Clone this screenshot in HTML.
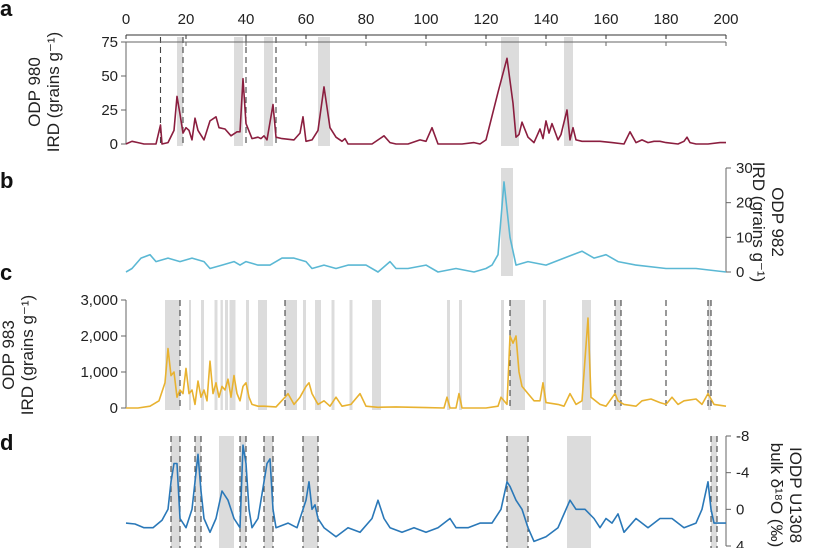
<!DOCTYPE html>
<html><head><meta charset="utf-8"><style>
html,body{margin:0;padding:0;background:#fff;}
svg{display:block;font-family:"Liberation Sans",sans-serif;}
</style></head><body>
<svg id="chart" width="826" height="548"></svg>
<script>
// Shared age axis 0-200 kyr
const ageTicks=[0,20,40,60,80,100,120,140,160,180,200];
// Panel a: ODP 980 IRD
const aAges=[0,2,4,6,10,11.5,12,14,16,17,18,19,20,21,22,23,24,26,28,30,31,33,35,37,38,39,40,42,44,45,46,47,49,50,52,56,58,59,60,62,64,66,68,70,72,73,74,78,82,86,88,90,94,98,100,102,104,108,112,116,118,120,124,127,129,130,131,132,134,136,138,139,140,141,142,144,145,147,148,149,150,152,158,162,166,168,170,172,174,176,178,180,184,186,187,188,190,194,198,200];
const aVals=[0,2,1,0,0,14,0,1,10,35,22,8,12,10,3,19,10,3,17,20,12,11,6,9,9,48,15,4,5,4,6,3,29,5,4,3,8,20,2,3,10,42,12,5,2,4,0,0,0,6,1,0,0,3,2,12,0,0,0,1,0,3,38,63,30,5,7,16,5,1,11,4,17,8,15,3,7,25,3,12,3,2,2,1,0,9,1,3,1,2,2,1,0,2,5,1,0,0,1,1];
const aTicks=[0,25,50,75];
const aBands=[[17,19],[36,39],[46,49],[64,68],[125,131],[146,149]];
const aDashes=[11.5,19,40,50];
// Panel b: ODP 982 IRD
const bAges=[0,2,5,8,10,14,18,22,26,28,32,36,38,40,44,48,52,56,60,62,66,70,74,80,84,88,90,94,100,104,110,116,120,122,124,126,128,130,134,140,146,152,156,160,164,170,180,190,200];
const bVals=[0,1,4,5,3,4,3,4,3,1,2,3,2,3,2,2,4,4,3,1,2,1,2,2,0,3,1,1,2,0,1,0,1,2,5,26,10,2,3,2,4,6,4,5,3,2,1,1,0];
const bTicks=[0,10,20,30];
const bBands=[[125,129]];
// Panel c: ODP 983 IRD
const cAges=[0,4,8,11,13,14,15,16,17,18,19,20,21,22,23,24,25,26,27,28,29,30,31,32,33,34,35,36,37,38,39,40,41,42,44,46,50,53,54,56,58,60,61,62,64,66,68,70,72,75,78,80,84,90,100,106,107,108,110,111,112,120,124,125,127,128,129,130,131,132,134,136,138,139,140,144,146,148,150,152,154,155,158,160,163,164,166,170,172,175,178,180,182,184,186,190,192,194,196,200];
const cVals=[0,0,50,200,700,1650,900,1000,300,500,400,1100,400,500,100,750,300,500,200,1300,400,700,300,600,500,800,300,900,400,200,600,700,300,100,50,50,30,300,400,100,300,600,700,400,100,200,50,300,50,100,400,50,20,30,10,0,300,0,0,400,0,0,50,300,100,2000,1800,2000,1000,600,400,200,200,700,150,100,50,400,100,200,2500,300,100,50,400,200,100,50,200,250,150,100,300,100,200,250,100,400,100,50];
const cTicks=[0,1000,2000,3000];
const cTickLabels=["0","1,000","2,000","3,000"];
const cBands=[[13,18],[21,21.6],[25,26],[29.5,30.5],[31.5,32.3],[33,34],[34.5,36.5],[40,41],[44,47],[53,57],[59,60],[63,65],[68.5,69.5],[74.5,75.5],[82,85],[107,108],[111,112],[125,126],[128,133],[139,140],[152,155],[163,165],[194,195]];
const cDashes=[18,53,128,163,165,180,194,195];
// Panel d: IODP U1308 bulk d18O
const dAges=[0,3,6,9,12,14,15,16,17,18,20,22,23,24,25,26,28,30,32,34,36,38,39,40,41,42,44,46,47,48,49,50,54,57,60,61,62,63,64,66,70,74,78,82,84,86,88,92,96,100,104,108,110,114,118,122,125,127,128,130,132,134,136,140,144,148,150,153,156,158,160,162,164,166,170,174,178,182,186,190,192,194,195,196,200];
const dVals=[1.5,1.6,2,2,1.2,0,-3,-5,-5,1,2,0,-3,-6,-2,1,2.5,1,-2,-1,1,2,-7,-5,0,2,1,-3,-5,-5.5,0,2,1.5,2,-1,-3,0,-0.5,1,2,3,2,2.5,1,-1,1,2,2.5,2,2.5,2,1,2,2,1.5,1.5,0,-3,-2.5,-1,0,2,3.5,3,2,-1,0,0,1,2,1,1.5,0.5,2.5,1,2,1,1,2,1.5,0,-3,0,1.5,1.5];
const dTicks=[-8,-4,0,4];
const dBands=[[15,18],[23,25],[31,36],[38,40],[46,49],[59,64],[127,134],[147,155],[195,197]];
const dDashes=[15,18,23,25,38,40,46,49,59,64,127,134,195,197];

const NS="http://www.w3.org/2000/svg";
const svgRoot=document.getElementById('chart');
function mk(tag,attrs,parent,txt){const e=document.createElementNS(NS,tag);for(const k in attrs)e.setAttribute(k,attrs[k]);if(txt!==undefined)e.textContent=txt;(parent||svgRoot).appendChild(e);return e;}
const X0=126,X1=726;
const xs=a=>X0+(a-0)/(200-0)*(X1-X0);

// top axis
const topAxis=mk('g',{});


mk('line',{x1:X0,x2:X1,y1:35,y2:35,stroke:'#333','stroke-width':1},topAxis);
ageTicks.forEach(t=>{
  mk('line',{x1:xs(t),x2:xs(t),y1:35,y2:39,stroke:'#333'},topAxis);
  const tx=mk('text',{x:xs(t),y:24,'text-anchor':'middle','font-size':15,fill:'#222'},topAxis,String(t));
  
  
});

function panel(o){
  const g=mk('g',{});
  
  
  const ys=v=>o.yTop+(v-o.vTop)/(o.vBot-o.vTop)*(o.yBot-o.yTop);
  const bTop=o.bandTop, bBot=o.bandBot;
  o.bands.forEach(b=>{
    const r=mk('rect',{x:xs(b[0]),y:bTop,width:Math.max(2,xs(b[1])-xs(b[0])),height:bBot-bTop,fill:'#dcdcdc'},g);
    
    
  });
  (o.dashes||[]).forEach(d=>{
    const l=mk('line',{x1:xs(d),x2:xs(d),y1:bTop,y2:bBot,stroke:'#444','stroke-width':1.1,'stroke-dasharray':'6,4'},g);
    
    
  });
  const ax=o.right?X1:X0;
  const ya=mk('g',{},g);
  
  
  mk('line',{x1:ax,x2:ax,y1:ys(o.ticks[o.ticks.length-1]),y2:ys(o.ticks[0]),stroke:'#666'},ya);
  o.ticks.forEach((t,i)=>{
    const y=ys(t);
    mk('line',{x1:ax,x2:o.right?ax+5:ax-5,y1:y,y2:y,stroke:'#666'},ya);
    const lbl=o.labels?o.labels[i]:String(t);
    const tx=mk('text',{x:o.right?ax+10:ax-8,y:y+5,'text-anchor':o.right?'start':'end','font-size':15,fill:'#222'},ya,lbl);
    
    
  });
  if(o.topTicks){
    ageTicks.forEach(t=>mk('line',{x1:xs(t),x2:xs(t),y1:o.yTop,y2:o.yTop+4,stroke:'#666'},ya));
    mk('line',{x1:X0,x2:X1,y1:o.yTop,y2:o.yTop,stroke:'#666'},ya);
  }
  let d='';
  const n=Math.min(o.ages.length,o.vals.length);
  for(let i=0;i<n;i++){d+=(i?'L':'M')+xs(o.ages[i]).toFixed(1)+','+ys(o.vals[i]).toFixed(1);}
  const p=mk('path',{d:d,fill:'none',stroke:o.color,'stroke-width':1.6,'stroke-linejoin':'round'},g);
  
  
  const cx=o.titleX, cy=o.titleY;
  const t=mk('text',{x:0,y:0,'text-anchor':'middle','font-size':17,fill:'#222',transform:`translate(${cx},${cy}) rotate(${o.right?90:-90})`},g);
  
  
  o.title.forEach((line,i)=>{mk('tspan',{x:0,dy:i?19:0},t,line);});
  const L=mk('text',{x:0,y:o.letterY,'font-size':22,'font-weight':'bold',fill:'#111'},g,o.letter);
  
  
}

panel({name:'panel-a-odp980',ages:aAges,vals:aVals,ticks:aTicks,bands:aBands,dashes:aDashes,vTop:75,vBot:0,yTop:42,yBot:144,bandTop:37,bandBot:146,color:'#8b1e3f',right:false,topTicks:true,titleX:40,titleY:92,title:['ODP 980','IRD (grains g\u207B\u00B9)'],letter:'a',letterY:16});
panel({name:'panel-b-odp982',ages:bAges,vals:bVals,ticks:bTicks,bands:bBands,vTop:30,vBot:0,yTop:168,yBot:272,bandTop:168,bandBot:276,color:'#5bb8d4',right:true,titleX:772,titleY:222,title:['ODP 982','IRD (grains g\u207B\u00B9)'],letter:'b',letterY:188});
panel({name:'panel-c-odp983',ages:cAges,vals:cVals,ticks:cTicks,labels:cTickLabels,bands:cBands,dashes:cDashes,vTop:3000,vBot:0,yTop:300,yBot:408,bandTop:300,bandBot:410,color:'#e8b230',right:false,titleX:14,titleY:355,title:['ODP 983','IRD (grains g\u207B\u00B9)'],letter:'c',letterY:280});
panel({name:'panel-d-u1308',ages:dAges,vals:dVals,ticks:dTicks,bands:dBands,dashes:dDashes,vTop:-8,vBot:4,yTop:436,yBot:546,bandTop:436,bandBot:548,color:'#2a78b8',right:true,titleX:790,titleY:495,title:['IODP U1308','bulk \u03B4\u00B9\u2078O (\u2030)'],letter:'d',letterY:450});
</script>
</body></html>
